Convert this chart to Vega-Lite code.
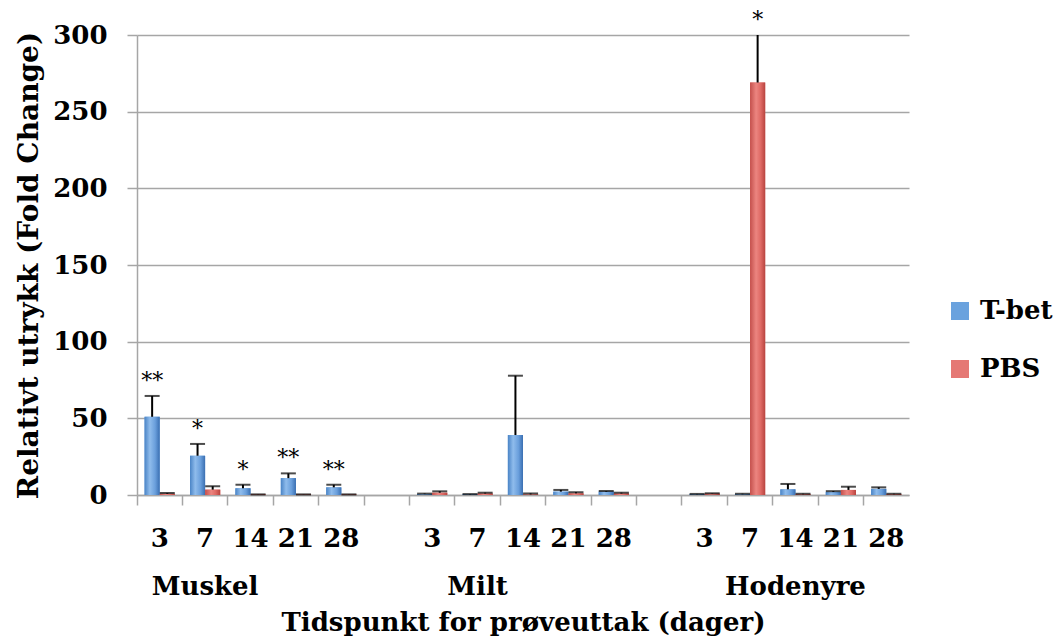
{
  "$schema": "https://vega.github.io/schema/vega-lite/v6.json",
  "autosize": "none",
  "width": 772,
  "height": 460,
  "padding": {"left": 137, "top": 35, "right": 144, "bottom": 143},
  "background": "white",
  "config": {"view": {"stroke": null}},
  "data": {"values": [
    {"cat": "M3", "series": "T-bet", "v": 51, "err": 64.6, "sig": "**"},
    {"cat": "M3", "series": "PBS", "v": 0.8, "err": 1.3, "sig": ""},
    {"cat": "M7", "series": "T-bet", "v": 25.6, "err": 33.3, "sig": "*"},
    {"cat": "M7", "series": "PBS", "v": 3.5, "err": 5.7, "sig": ""},
    {"cat": "M14", "series": "T-bet", "v": 4.4, "err": 6.7, "sig": "*"},
    {"cat": "M14", "series": "PBS", "v": 0.3, "err": 0.4, "sig": ""},
    {"cat": "M21", "series": "T-bet", "v": 11, "err": 14.1, "sig": "**"},
    {"cat": "M21", "series": "PBS", "v": 0.3, "err": 0.4, "sig": ""},
    {"cat": "M28", "series": "T-bet", "v": 5, "err": 6.7, "sig": "**"},
    {"cat": "M28", "series": "PBS", "v": 0.3, "err": 0.4, "sig": ""},
    {"cat": "S3", "series": "T-bet", "v": 0.6, "err": 0.9, "sig": ""},
    {"cat": "S3", "series": "PBS", "v": 1.5, "err": 2.4, "sig": ""},
    {"cat": "S7", "series": "T-bet", "v": 0.4, "err": 0.6, "sig": ""},
    {"cat": "S7", "series": "PBS", "v": 1.0, "err": 1.5, "sig": ""},
    {"cat": "S14", "series": "T-bet", "v": 39.1, "err": 77.8, "sig": ""},
    {"cat": "S14", "series": "PBS", "v": 0.4, "err": 1.0, "sig": ""},
    {"cat": "S21", "series": "T-bet", "v": 2.2, "err": 3.3, "sig": ""},
    {"cat": "S21", "series": "PBS", "v": 1.1, "err": 1.8, "sig": ""},
    {"cat": "S28", "series": "T-bet", "v": 2.2, "err": 2.6, "sig": ""},
    {"cat": "S28", "series": "PBS", "v": 1.0, "err": 1.5, "sig": ""},
    {"cat": "H3", "series": "T-bet", "v": 0.5, "err": 0.7, "sig": ""},
    {"cat": "H3", "series": "PBS", "v": 0.9, "err": 1.1, "sig": ""},
    {"cat": "H7", "series": "T-bet", "v": 0.5, "err": 0.8, "sig": ""},
    {"cat": "H7", "series": "PBS", "v": 269, "err": 300, "sig": "*"},
    {"cat": "H14", "series": "T-bet", "v": 3.7, "err": 7.2, "sig": ""},
    {"cat": "H14", "series": "PBS", "v": 0.5, "err": 0.8, "sig": ""},
    {"cat": "H21", "series": "T-bet", "v": 2.0, "err": 2.5, "sig": ""},
    {"cat": "H21", "series": "PBS", "v": 3.3, "err": 5.4, "sig": ""},
    {"cat": "H28", "series": "T-bet", "v": 4.0, "err": 5.0, "sig": ""},
    {"cat": "H28", "series": "PBS", "v": 0.5, "err": 0.8, "sig": ""}
  ]},
  "encoding": {
    "x": {
      "field": "cat", "type": "nominal",
      "scale": {"domain": ["M3","M7","M14","M21","M28","G1","S3","S7","S14","S21","S28","G2","H3","H7","H14","H21","H28"], "paddingInner": 0, "paddingOuter": 0},
      "axis": {
        "labelExpr": "datum.value == 'M7' ? ['7', 'Muskel'] : datum.value == 'S7' ? ['7', 'Milt'] : datum.value == 'H14' ? ['14', 'Hodenyre'] : indexof(datum.value, 'G') == 0 ? '' : substring(datum.value, 1)",
        "bandPosition": 0,
        "labelAngle": 0, "labelFont": "DejaVu Serif", "labelFontWeight": "bold", "labelFontSize": 26, "labelColor": "black",
        "labelLineHeight": 48, "labelBaseline": "top",
        "labelPadding": 20, "tickSize": 10, "tickColor": "#a6a6a6", "tickWidth": 1.5,
        "domainColor": "#a6a6a6", "domainWidth": 1.5, "grid": false,
        "title": "Tidspunkt for prøveuttak (dager)",
        "titleFont": "DejaVu Serif", "titleFontWeight": "bold", "titleFontSize": 26, "titleColor": "black",
        "titlePadding": 10
      }
    },
    "xOffset": {"field": "series", "type": "nominal", "scale": {"domain": ["T-bet", "PBS"], "paddingInner": 0, "paddingOuter": 0.5}},
    "y": {
      "field": "v", "type": "quantitative",
      "scale": {"domain": [0, 300], "nice": false},
      "axis": {
        "values": [0, 50, 100, 150, 200, 250, 300],
        "title": "Relativt utrykk (Fold Change)",
        "titleFont": "DejaVu Serif", "titleFontWeight": "bold", "titleFontSize": 28, "titleColor": "black",
        "titlePadding": 9,
        "labelFont": "DejaVu Serif", "labelFontWeight": "bold", "labelFontSize": 26, "labelColor": "black", "labelPadding": 20,
        "tickSize": 10, "tickColor": "#a6a6a6", "tickWidth": 1.5,
        "domainColor": "#a6a6a6", "domainWidth": 1.5,
        "grid": true, "gridColor": "#a6a6a6", "gridWidth": 1.5
      }
    }
  },
  "layer": [
    {
      "mark": {"type": "bar"},
      "encoding": {
        "color": {
          "field": "series", "type": "nominal",
          "scale": {"domain": ["T-bet", "PBS"], "range": ["#6aa2de", "#e57874"]},
          "legend": {
            "title": null, "orient": "none", "legendX": 810, "legendY": 263,
            "symbolType": "square", "symbolSize": 324, "symbolStrokeWidth": 0,
            "labelFont": "DejaVu Serif", "labelFontWeight": "bold", "labelFontSize": 26, "labelColor": "black",
            "labelOffset": 7, "rowPadding": 32
          }
        }
      }
    },
    {
      "transform": [{"filter": "datum.series == 'T-bet'"}],
      "mark": {"type": "bar", "color": {"gradient": "linear", "x1": 0, "y1": 0, "x2": 1, "y2": 0, "stops": [
        {"offset": 0, "color": "#4a84c6"}, {"offset": 0.35, "color": "#8fbcec"}, {"offset": 0.7, "color": "#6a9fdc"}, {"offset": 1, "color": "#3a6fb2"}]}},
      "encoding": {}
    },
    {
      "transform": [{"filter": "datum.series == 'PBS'"}],
      "mark": {"type": "bar", "color": {"gradient": "linear", "x1": 0, "y1": 0, "x2": 1, "y2": 0, "stops": [
        {"offset": 0, "color": "#c4504c"}, {"offset": 0.4, "color": "#ec8580"}, {"offset": 0.7, "color": "#df6a65"}, {"offset": 1, "color": "#b8443f"}]}},
      "encoding": {}
    },
    {
      "mark": {"type": "rule", "color": "black", "strokeWidth": 2},
      "encoding": {"y2": {"field": "err"}}
    },
    {
      "transform": [{"filter": "datum.err < 300"}],
      "mark": {"type": "tick", "color": "black", "thickness": 2, "size": 15},
      "encoding": {"y": {"field": "err", "type": "quantitative"}}
    },
    {
      "transform": [{"filter": "datum.sig != ''"}],
      "mark": {"type": "text", "font": "DejaVu Serif", "fontSize": 22, "color": "black", "baseline": "alphabetic", "dy": -8},
      "encoding": {"y": {"field": "err", "type": "quantitative"}, "text": {"field": "sig"}}
    }
  ]
}
